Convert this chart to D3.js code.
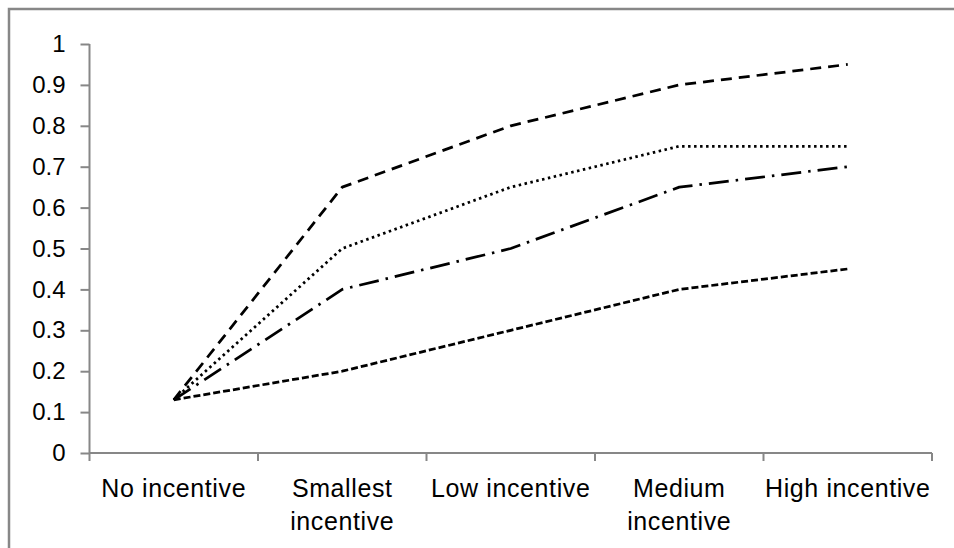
<!DOCTYPE html>
<html>
<head>
<meta charset="utf-8">
<script src="https://cdn.jsdelivr.net/npm/d3@7"></script>
<style>
  html, body { margin: 0; padding: 0; background: #fff; }
  svg { display: block; }
  text { font-family: "Liberation Sans", Arial, sans-serif; fill: #000; }
</style>
</head>
<body>
<svg id="chart" width="954" height="548"></svg>
<script>
const categories = ["No incentive", "Smallest incentive", "Low incentive", "Medium incentive", "High incentive"];
const categoryLines = [["No incentive"], ["Smallest", "incentive"], ["Low incentive"], ["Medium", "incentive"], ["High incentive"]];
const yTicks = [0, 0.1, 0.2, 0.3, 0.4, 0.5, 0.6, 0.7, 0.8, 0.9, 1];
const yTickLabels = ["0", "0.1", "0.2", "0.3", "0.4", "0.5", "0.6", "0.7", "0.8", "0.9", "1"];
const seriesA = [0.13, 0.65, 0.80, 0.90, 0.95]; // long dash
const seriesB = [0.13, 0.50, 0.65, 0.75, 0.75]; // dotted
const seriesC = [0.13, 0.40, 0.50, 0.65, 0.70]; // dash-dot
const seriesD = [0.13, 0.20, 0.30, 0.40, 0.45]; // short dash
const seriesList = [
  { values: seriesA, dash: "11,7" },
  { values: seriesB, dash: "2.5,3.5" },
  { values: seriesC, dash: "20,7,2.5,7" },
  { values: seriesD, dash: "7,3" }
];

(function () {
const svg = d3.select("#chart");
const mLeft = 89.5, mRight = 932, mTop = 44, mBottom = 453;
const grey = "#878787";

// outer frame (extends past right/bottom)
svg.append("rect").attr("x", 9).attr("y", 9).attr("width", 960).attr("height", 560)
  .attr("fill", "none").attr("stroke", grey).attr("stroke-width", 2.5);

const x = d3.scaleBand().domain(categories).range([mLeft, mRight]).padding(0);
const y = d3.scaleLinear().domain([0, 1]).range([mBottom, mTop]);

// Y axis
const yAxis = d3.axisLeft(y).tickValues(yTicks).tickSize(9).tickPadding(15)
  .tickFormat((d, i) => yTickLabels[i]);
const gy = svg.append("g").attr("transform", `translate(${mLeft},0)`).call(yAxis);
gy.select(".domain").attr("stroke", grey).attr("stroke-width", 2).attr("d", `M0,${mTop}V${mBottom}`);
gy.selectAll(".tick line").attr("stroke", grey).attr("stroke-width", 2);
gy.selectAll(".tick text").attr("font-size", 24).attr("font-family", "Liberation Sans, Arial, sans-serif").attr("fill", "#000");

// X axis line & ticks at band boundaries
const gx = svg.append("g").attr("transform", `translate(0,${mBottom})`);
gx.append("line").attr("x1", mLeft).attr("x2", mRight).attr("y1", 0).attr("y2", 0)
  .attr("stroke", grey).attr("stroke-width", 2);
const bounds = categories.map(c => x(c)).concat([x(categories[categories.length - 1]) + x.bandwidth()]);
gx.selectAll("line.tk").data(bounds).enter().append("line").attr("class", "tk")
  .attr("x1", d => d).attr("x2", d => d).attr("y1", 0).attr("y2", 8)
  .attr("stroke", grey).attr("stroke-width", 2);

// X labels
const lbl = svg.append("g");
categories.forEach((c, i) => {
  const cx = x(c) + x.bandwidth() / 2;
  const t = lbl.append("text").attr("x", cx).attr("y", 497)
    .attr("text-anchor", "middle").attr("font-size", 25).attr("letter-spacing", 0.6);
  categoryLines[i].forEach((ln, j) => {
    t.append("tspan").attr("x", cx).attr("dy", j === 0 ? 0 : 33).text(ln);
  });
});

// Lines
const line = d3.line().x((d, i) => x(categories[i]) + x.bandwidth() / 2).y(d => y(d));
svg.append("g").selectAll("path").data(seriesList).enter().append("path")
  .attr("d", s => line(s.values))
  .attr("fill", "none").attr("stroke", "#000").attr("stroke-width", 2.75)
  .attr("stroke-dasharray", s => s.dash).attr("stroke-linejoin", "round");
})();
</script>
</body>
</html>
